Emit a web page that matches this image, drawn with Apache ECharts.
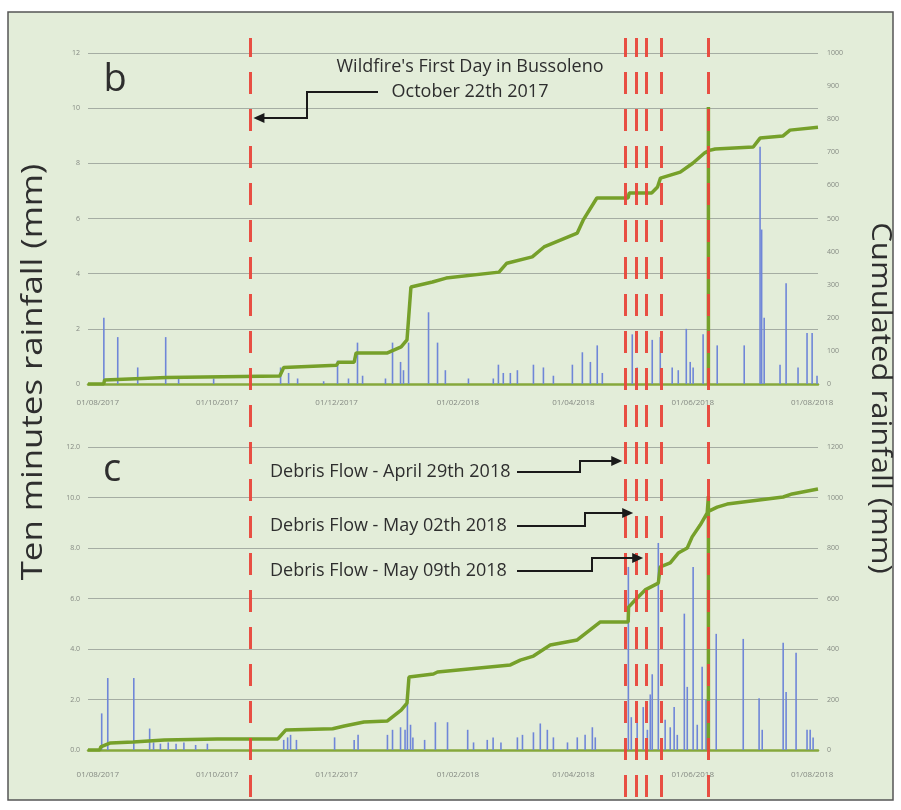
<!DOCTYPE html>
<html>
<head>
<meta charset="utf-8">
<script src="https://cdn.jsdelivr.net/npm/echarts@6/dist/echarts.min.js"></script>
<style>
html,body{margin:0;padding:0;background:#ffffff;}
#chart{width:901px;height:810px;}
</style>
</head>
<body>
<div id="chart"></div>
<script>
// x values are days since 01/08/2017
const tickDays = [0, 61, 122, 184, 243, 304, 365];
const tickLabels = ['01/08/2017', '01/10/2017', '01/12/2017', '01/02/2018', '01/04/2018', '01/06/2018', '01/08/2018'];

// Panel b : ten-minute rainfall spikes (mm) and cumulated rainfall (mm)
const spikeDaysB = [3.1, 10.2, 20.4, 34.7, 41.3, 59.2, 93.4, 97.5, 102.1, 115.4, 122.5, 128.1, 132.7, 135.3, 147, 150.6, 154.7, 156.2, 158.8, 169, 173.6, 177.6, 189.4, 202.1, 204.7, 207.2, 210.8, 214.4, 222.6, 227.7, 232.8, 242.5, 247.6, 251.7, 255.2, 257.8, 273.1, 275.6, 283.3, 287.4, 293.5, 296.6, 300.7, 302.7, 304.2, 309.3, 316.5, 330.3, 338.4, 339.2, 340.5, 348.6, 351.7, 357.8, 362.4, 365, 367.5];
const spikeMmB = [2.4, 1.7, 0.6, 1.7, 0.2, 0.2, 0.6, 0.4, 0.2, 0.1, 0.85, 0.2, 1.5, 0.3, 0.2, 1.5, 0.8, 0.5, 1.5, 2.6, 1.5, 0.5, 0.2, 0.2, 0.7, 0.4, 0.4, 0.5, 0.7, 0.6, 0.3, 0.7, 1.15, 0.8, 1.4, 0.4, 1.8, 0.6, 1.6, 1.7, 0.6, 0.5, 2.0, 0.8, 0.6, 1.8, 1.4, 1.4, 8.6, 5.6, 2.4, 0.7, 3.65, 0.6, 1.85, 1.85, 0.3];
const cumDaysB = [-5, 3, 3.5, 35, 93, 95, 122, 123, 131, 132, 148, 155, 158, 160, 171, 178, 205, 209, 222, 228, 245, 248, 255, 271, 271.5, 283, 286, 287.5, 297.6, 304, 310, 312, 312, 312, 312, 315.5, 334.9, 338.4, 350, 353.7, 368];
const cumMmB = [0, 0, 12, 20, 24, 50, 57, 66, 66, 94, 94, 112, 133, 293, 308, 320, 338, 365, 384, 414, 456, 495, 562, 562, 577, 577, 595, 622, 640, 667, 698, 705, 837, 0, 705, 710, 716, 743, 749, 767, 776];

// Panel c
const spikeDaysC = [2, 5.1, 18.4, 26.5, 28.5, 32, 36, 40, 44, 50, 56, 95, 97, 98.5, 101.5, 121, 131, 133, 148, 150.6, 154.7, 157, 158.2, 159.8, 161, 167, 172.5, 178.7, 189, 192, 199, 202, 206, 214.4, 217, 222.6, 226.1, 229.7, 232.8, 240, 245, 249, 252.7, 254.2, 271.1, 272.6, 275.6, 278.7, 280.8, 282.3, 283.3, 286.4, 289.9, 292.5, 294.5, 296.1, 299.7, 301.2, 304.2, 306.3, 308.8, 310.8, 316, 329.8, 337.9, 339.5, 350.2, 351.7, 356.8, 362.4, 364, 365.5];
const spikeMmC = [1.45, 2.85, 2.85, 0.85, 0.3, 0.25, 0.3, 0.25, 0.3, 0.2, 0.25, 0.4, 0.5, 0.6, 0.4, 0.5, 0.4, 0.6, 0.6, 0.8, 0.9, 0.8, 1.9, 1.0, 0.5, 0.4, 1.1, 1.1, 0.8, 0.3, 0.4, 0.5, 0.3, 0.5, 0.6, 0.7, 1.05, 0.8, 0.5, 0.3, 0.5, 0.6, 0.9, 0.5, 7.25, 1.3, 1.1, 1.7, 0.8, 2.2, 3.0, 8.2, 1.2, 0.9, 1.7, 0.6, 5.4, 2.5, 7.25, 1.0, 3.3, 2.0, 4.6, 4.4, 2.05, 0.8, 4.25, 2.3, 3.85, 0.8, 0.8, 0.5];
const cumDaysC = [-5, 1, 1.5, 6.5, 18, 34, 61, 92, 96, 120, 126, 136, 148, 155, 158, 159, 171.5, 173.6, 210.8, 215.9, 222.6, 231.2, 245, 248.1, 256.8, 271, 271.2, 274.6, 279.7, 286.4, 287.4, 292.5, 296.6, 301.2, 303.7, 307.8, 311.4, 312, 312, 312, 312, 316.5, 321.6, 350.2, 354.8, 368];
const cumMmC = [0, 0, 12, 28, 32, 40, 44, 44, 79, 84, 95, 111, 115, 158, 186, 289, 301, 309, 337, 356, 372, 416, 436, 455, 507, 507, 566, 594, 634, 661, 725, 741, 780, 800, 844, 891, 939, 945, 1005, 0, 945, 962, 974, 1002, 1014, 1034];

// Event lines (red dashed) as drawn in the figure
const eventDays = [78, 269.5, 275.1, 280.2, 287.9, 312];
const wildfireText = ["Wildfire's First Day in Bussoleno", 'October 22th 2017'];
const debrisTexts = ['Debris Flow - April 29th 2018', 'Debris Flow - May 02th 2018', 'Debris Flow - May 09th 2018'];

const zip = (a, b) => a.map((v, i) => [v, b[i]]);

const FONT = '"Open Sans", "Noto Sans", sans-serif';
const chart = echarts.init(document.getElementById('chart'), null, {renderer: 'canvas'});

const xBase = (gi, margin, show) => ({
  type: 'value', gridIndex: gi, min: -5, max: 368,
  axisLine: {show: show, onZero: false, lineStyle: {color: '#86a83c', width: 2.5}},
  axisTick: {show: false},
  splitLine: {show: false},
  axisLabel: {show: show, customValues: tickDays, margin: margin, fontSize: 8, color: '#858a83', fontFamily: FONT,
    formatter: v => { const i = tickDays.indexOf(v); return i >= 0 ? tickLabels[i] : ''; }}
});
const yLeft = (gi, max, dec) => ({
  type: 'value', gridIndex: gi, min: 0, max: max, interval: 2, position: 'left',
  axisLine: {show: false}, axisTick: {show: false},
  splitLine: {show: true, lineStyle: {color: '#a5ada3', width: 1}},
  axisLabel: {fontSize: 7, color: '#858a83', margin: 8, fontFamily: FONT,
    formatter: v => dec ? v.toFixed(1) : String(v)}
});
const yRight = (gi, max, step) => ({
  type: 'value', gridIndex: gi, min: 0, max: max, interval: step, position: 'right',
  axisLine: {show: false}, axisTick: {show: false}, splitLine: {show: false},
  axisLabel: {fontSize: 7, color: '#858a83', margin: 9, fontFamily: FONT, formatter: v => String(v)}
});

const option = {
  backgroundColor: '#ffffff',
  animation: false,
  grid: [
    {left: 88, width: 730, top: 53, height: 331},
    {left: 88, width: 730, top: 447, height: 303},
    {left: 88, width: 730, top: 38, height: 759}
  ],
  xAxis: [xBase(0, 15, true), xBase(1, 21, true), Object.assign(xBase(2, 0, false), {show: false})],
  yAxis: [
    yLeft(0, 12, false), yRight(0, 1000, 100),
    yLeft(1, 12, true), yRight(1, 1200, 200),
    {type: 'value', gridIndex: 2, min: 0, max: 1, show: false, splitLine: {show: false}}
  ],
  series: [
    {type: 'bar', xAxisIndex: 0, yAxisIndex: 0, data: zip(spikeDaysB, spikeMmB), barWidth: 1.6,
      itemStyle: {color: '#6f86d8'}, z: 2},
    {type: 'line', xAxisIndex: 0, yAxisIndex: 1, data: zip(cumDaysB, cumMmB), showSymbol: false,
      lineStyle: {color: '#76a02a', width: 3.5}, z: 3},
    {type: 'bar', xAxisIndex: 1, yAxisIndex: 2, data: zip(spikeDaysC, spikeMmC), barWidth: 1.6,
      itemStyle: {color: '#6f86d8'}, z: 2},
    {type: 'line', xAxisIndex: 1, yAxisIndex: 3, data: zip(cumDaysC, cumMmC), showSymbol: false,
      lineStyle: {color: '#76a02a', width: 3.5}, z: 3},
    {type: 'line', xAxisIndex: 2, yAxisIndex: 4, data: [[-5, 0]], showSymbol: false,
      lineStyle: {opacity: 0}, z: 10, silent: true,
      markLine: {silent: true, symbol: ['none', 'none'], label: {show: false},
        lineStyle: {color: '#e8473b', width: 3, type: [22, 15], opacity: 0.95},
        data: eventDays.map(d => ({xAxis: d}))}}
  ]
};
chart.setOption(option);

const px = d => chart.convertToPixel({xAxisIndex: 2}, d);
const txt = (x, y, text, size, align, rot, sx) => ({
  type: 'text', x: x, y: y, rotation: rot || 0, scaleX: sx || 1, z: 20,
  style: {text: text, font: size + 'px ' + FONT, fill: '#2e2e2e', textAlign: align || 'center',
    textVerticalAlign: 'middle', verticalAlign: 'middle'}
});
const arrowLine = pts => ({type: 'polyline', z: 20, shape: {points: pts}, style: {stroke: '#1a1a1a', lineWidth: 2, fill: null}});
const head = (tx, y, dir) => ({type: 'polygon', z: 20,
  shape: {points: [[tx, y], [tx - dir * 11, y - 5], [tx - dir * 11, y + 5]]}, style: {fill: '#1a1a1a'}});

const g = [];
g.push({type: 'rect', z: -10, shape: {x: 8, y: 12, width: 885, height: 788},
  style: {fill: '#e3edd9', stroke: '#555555', lineWidth: 1.5}});
g.push(txt(34, 372, 'Ten minutes rainfall (mm)', 29, 'center', Math.PI / 2, 1.2));
g.push(txt(880, 398, 'Cumulated rainfall (mm)', 28, 'center', -Math.PI / 2, 1.11));
g.push(txt(115, 80, 'b', 38));
g.push(txt(112, 470, 'c', 38));
g.push(txt(470, 67, wildfireText[0], 18));
g.push(txt(470, 92, wildfireText[1], 18));
// wildfire arrow (points left to the first event line)
const wTip = px(eventDays[0]) + 3;
g.push(arrowLine([[378, 92], [307, 92], [307, 118], [wTip + 9, 118]]));
g.push(head(wTip, 118, -1));
// debris flow labels and arrows
const dY = [472, 526, 571];
const bendX = [580, 585, 592];
const tipY = [461, 513, 558];
for (let i = 0; i < 3; i++) {
  g.push(txt(270, dY[i], debrisTexts[i], 18, 'left'));
  const tip = px(eventDays[i + 1]) - 3;
  const startX = 517;
  g.push(arrowLine([[startX, dY[i]], [bendX[i], dY[i]], [bendX[i], tipY[i]], [tip - 9, tipY[i]]]));
  g.push(head(tip, tipY[i], 1));
}
chart.setOption({graphic: g});
</script>
</body>
</html>
